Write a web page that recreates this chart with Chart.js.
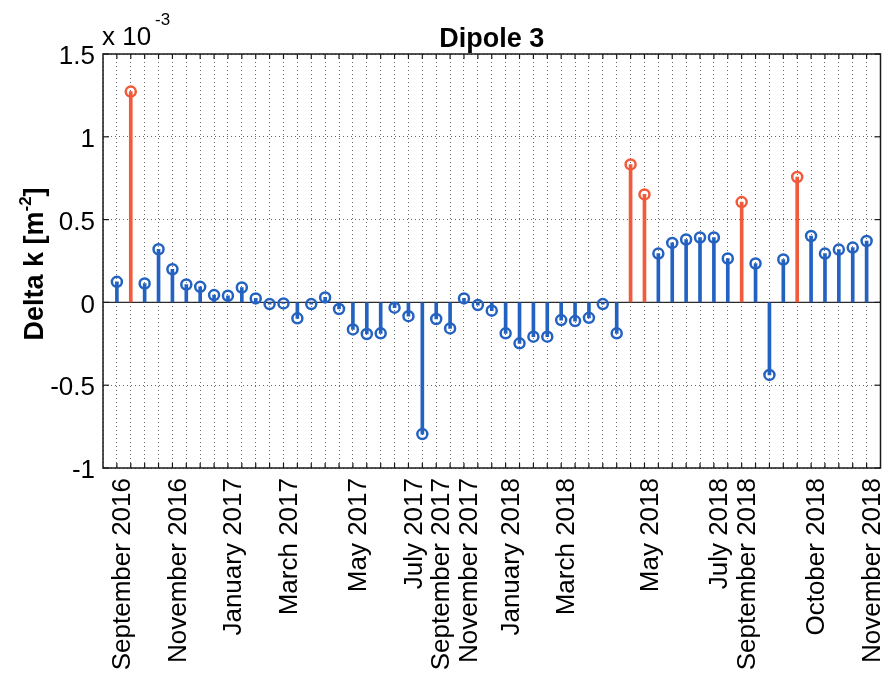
<!DOCTYPE html>
<html>
<head>
<meta charset="utf-8">
<script src="https://cdn.jsdelivr.net/npm/chart.js@4.4.0/dist/chart.umd.min.js"></script>
<style>
  html, body { margin: 0; padding: 0; background: #fff; }
  #wrap { width: 888px; height: 691px; }
</style>
</head>
<body>
<div id="wrap"><canvas id="dipoleChart" width="888" height="691"></canvas></div>
<script>
// Delta k per measurement, in units of 1e-3 m^-2
const deltaK = [
  0.124, 1.273, 0.114, 0.321, 0.200, 0.108, 0.094, 0.044, 0.040, 0.090,
  0.024, -0.010, -0.006, -0.096, -0.010, 0.030, -0.040, -0.163, -0.191, -0.187,
  -0.032, -0.083, -0.795, -0.100, -0.157, 0.024, -0.016, -0.050, -0.187, -0.247,
  -0.207, -0.207, -0.107, -0.113, -0.093, -0.010, -0.187, 0.833, 0.652, 0.295,
  0.359, 0.380, 0.392, 0.392, 0.265, 0.606, 0.235, -0.438, 0.259, 0.757,
  0.401, 0.295, 0.319, 0.331, 0.371
];
// measurement numbers drawn in red
const highlighted = [2, 38, 39, 46, 50];

// measurement numbers that carry a month label
const labelPositions = [1, 5, 9, 13, 18, 22, 24, 26, 29, 33, 39, 44, 46, 51, 55];
const labelNames = [
  'September 2016', 'November 2016', 'January 2017', 'March 2017', 'May 2017',
  'July 2017', 'September 2017', 'November 2017', 'January 2018', 'March 2018',
  'May 2018', 'July 2018', 'September 2018', 'October 2018', 'November 2018'
];
const yTicks = [-1, -0.5, 0, 0.5, 1, 1.5];

const FONT = "'Liberation Sans', Arial, Helvetica, sans-serif";
const BLUE = '#2462c1';
const RED = '#f15a3a';
const GRID = 'rgba(50,50,60,0.75)';

const points = deltaK.map((v, i) => ({ x: i + 1, y: v }));
const colors = deltaK.map((v, i) => highlighted.includes(i + 1) ? RED : BLUE);
const xMax = deltaK.length + 1;

function line(ctx, x1, y1, x2, y2) {
  ctx.beginPath();
  ctx.moveTo(x1, y1);
  ctx.lineTo(x2, y2);
  ctx.stroke();
}

// baseline, box, inward tick marks and the text around the axes
const frame = {
  id: 'frame',
  beforeDatasetsDraw(chart) {
    const { ctx, chartArea: a, scales: { y } } = chart;
    const y0 = y.getPixelForValue(0);
    ctx.save();
    ctx.strokeStyle = '#2a2a2a';
    ctx.lineWidth = 1.2;
    line(ctx, a.left, y0, a.right, y0);
    ctx.restore();
  },
  afterDraw(chart) {
    const { ctx, chartArea: a, scales: { x, y } } = chart;
    ctx.save();
    ctx.strokeStyle = '#1a1a1a';
    ctx.lineWidth = 1.5;
    ctx.strokeRect(a.left, a.top, a.right - a.left, a.bottom - a.top);

    ctx.lineWidth = 1.2;
    for (let i = 1; i < xMax; i++) {
      const px = x.getPixelForValue(i);
      line(ctx, px, a.top, px, a.top + 5);
      line(ctx, px, a.bottom, px, a.bottom - 5);
    }
    yTicks.forEach(v => {
      const py = y.getPixelForValue(v);
      line(ctx, a.left, py, a.left + 6, py);
      line(ctx, a.right, py, a.right - 6, py);
    });

    ctx.fillStyle = '#000';
    ctx.textBaseline = 'alphabetic';

    // title
    ctx.font = 'bold 27px ' + FONT;
    ctx.textAlign = 'center';
    ctx.fillText('Dipole 3', (a.left + a.right) / 2, 47);

    // axis multiplier
    ctx.textAlign = 'left';
    ctx.font = '26px ' + FONT;
    ctx.fillText('x 10', a.left - 1, 45);
    ctx.font = '17px ' + FONT;
    ctx.fillText('-3', 155, 25);

    // y axis label with superscript
    const main = 'Delta k [m';
    const sup = '-2';
    const end = ']';
    ctx.font = 'bold 27px ' + FONT;
    const wMain = ctx.measureText(main).width;
    const wEnd = ctx.measureText(end).width;
    ctx.font = 'bold 17px ' + FONT;
    const wSup = ctx.measureText(sup).width;
    const total = wMain + wSup + wEnd;
    ctx.translate(43, (a.top + a.bottom) / 2 + 3);
    ctx.rotate(-Math.PI / 2);
    let tx = -total / 2;
    ctx.font = 'bold 27px ' + FONT;
    ctx.fillText(main, tx, 0);
    tx += wMain;
    ctx.font = 'bold 17px ' + FONT;
    ctx.fillText(sup, tx, -12);
    tx += wSup;
    ctx.font = 'bold 27px ' + FONT;
    ctx.fillText(end, tx, 0);
    ctx.restore();
  }
};

const ctx = document.getElementById('dipoleChart').getContext('2d');
new Chart(ctx, {
  type: 'bar',
  data: {
    datasets: [
      {
        type: 'line',
        data: points,
        showLine: false,
        pointStyle: 'circle',
        pointRadius: 5,
        pointBorderWidth: 2.5,
        pointBorderColor: colors,
        pointBackgroundColor: 'rgba(0,0,0,0)',
        order: 0
      },
      {
        type: 'bar',
        data: points,
        backgroundColor: colors,
        borderWidth: 0,
        barThickness: 3,
        order: 1
      }
    ]
  },
  options: {
    responsive: false,
    animation: false,
    devicePixelRatio: 1,
    layout: { padding: { top: 54, right: 7, left: 0, bottom: 0 } },
    plugins: {
      legend: { display: false },
      tooltip: { enabled: false },
      title: { display: false }
    },
    scales: {
      x: {
        type: 'linear',
        offset: false,
        min: 0,
        max: xMax,
        afterBuildTicks: scale => {
          scale.ticks = [];
          for (let i = 0; i <= xMax; i++) scale.ticks.push({ value: i });
        },
        afterFit: scale => {
          scale.height = 223;
          scale.paddingLeft = 0;
          scale.paddingRight = 0;
        },
        ticks: {
          autoSkip: false,
          minRotation: 90,
          maxRotation: 90,
          padding: 10,
          labelOffset: 6,
          color: '#000',
          font: { family: FONT, size: 26 },
          callback: value => {
            const k = labelPositions.indexOf(value);
            return k >= 0 ? labelNames[k] : '';
          }
        },
        grid: { offset: false, color: GRID, lineWidth: 1, drawTicks: false },
        border: { display: false, dash: [1, 3] }
      },
      y: {
        min: -1,
        max: 1.5,
        afterBuildTicks: scale => {
          scale.ticks = yTicks.map(v => ({ value: v }));
        },
        afterFit: scale => {
          scale.width = 103;
          scale.paddingTop = 0;
          scale.paddingBottom = 0;
        },
        ticks: {
          padding: 8,
          labelOffset: 3,
          color: '#000',
          font: { family: FONT, size: 26 },
          callback: value => String(value)
        },
        grid: { color: GRID, lineWidth: 1, drawTicks: false },
        border: { display: false, dash: [1, 3] }
      }
    }
  },
  plugins: [frame]
});
</script>
</body>
</html>
